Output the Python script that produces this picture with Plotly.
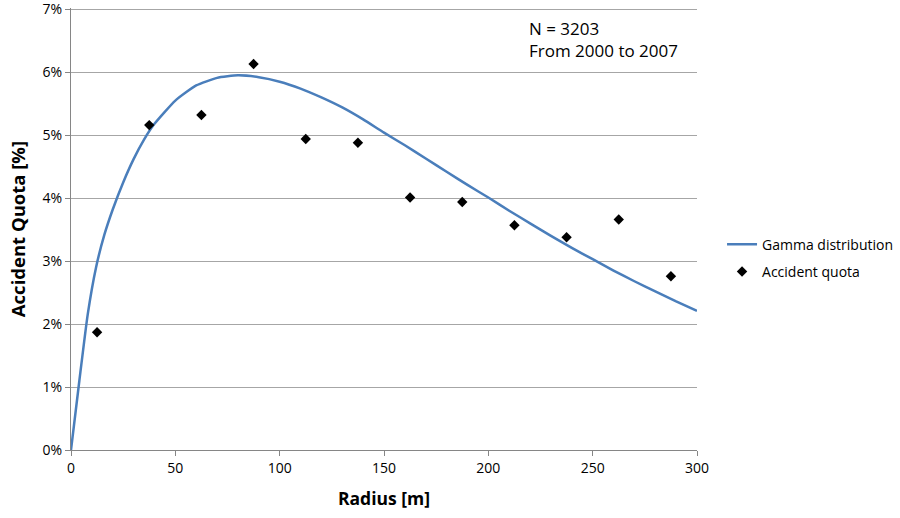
import plotly.graph_objects as go

# Gamma distribution curve, radius [m] and quota [%]
gamma_x = [0, 4, 8, 12, 16, 20, 25, 30, 35, 40, 50, 60, 70, 80, 90, 100, 110,
           120, 130, 140, 150, 160, 170, 180, 190, 200, 210, 220, 230, 240,
           250, 260, 270, 280, 290, 300]
gamma_y = [0.00, 1.10, 2.15, 2.90, 3.42, 3.82, 4.25, 4.62, 4.93, 5.18, 5.55,
           5.79, 5.91, 5.95, 5.92, 5.85, 5.74, 5.60, 5.44, 5.25, 5.04, 4.84,
           4.63, 4.42, 4.21, 4.01, 3.80, 3.60, 3.40, 3.21, 3.03, 2.85, 2.68,
           2.52, 2.36, 2.21]

# Accident quota points
quota_x = [12.5, 37.5, 62.5, 87.5, 112.5, 137.5, 162.5, 187.5, 212.5, 237.5, 262.5, 287.5]
quota_y = [1.87, 5.16, 5.32, 6.13, 4.94, 4.88, 4.01, 3.94, 3.57, 3.38, 3.66, 2.76]

x_ticks = [0, 50, 100, 150, 200, 250, 300]
y_ticks = [0, 1, 2, 3, 4, 5, 6, 7]
y_tick_labels = ["0%", "1%", "2%", "3%", "4%", "5%", "6%", "7%"]

font_family = "Open Sans, Liberation Sans, sans-serif"

fig = go.Figure()
fig.add_trace(go.Scatter(
    x=gamma_x, y=gamma_y, mode="lines", name="Gamma distribution",
    legendgroup="gamma",
    line=dict(color="#4A7EBB", width=2.5, shape="spline", smoothing=0.5),
))
fig.add_trace(go.Scatter(
    x=quota_x, y=quota_y, mode="markers", name="Accident quota",
    legendgroup="quota",
    marker=dict(symbol="diamond", color="black", size=8),
))

fig.add_annotation(
    x=0.7286, y=0.985, xref="paper", yref="paper", xanchor="left", yanchor="top",
    text="N = 3203<br>From 2000 to 2007", showarrow=False, align="left",
    font=dict(size=17, color="black", family=font_family),
)

fig.update_layout(
    width=900, height=518,
    margin=dict(l=71, r=203, t=8, b=68, autoexpand=False),
    paper_bgcolor="white", plot_bgcolor="white",
    font=dict(family=font_family, size=13.5, color="black"),
    showlegend=True,
    legend=dict(x=1.04, y=0.434, xanchor="left", yanchor="middle",
                font=dict(size=14), itemwidth=30, tracegroupgap=6),
    xaxis=dict(
        range=[0, 300], tickvals=x_ticks, showgrid=False,
        showline=True, linecolor="#868686", linewidth=1,
        ticks="outside", ticklen=5, tickcolor="#868686",
        tickfont=dict(size=14),
        title=dict(text="<b>Radius [m]</b>", font=dict(size=17.5), standoff=16),
        zeroline=False,
    ),
    yaxis=dict(
        range=[0, 7.02], tickvals=y_ticks, ticktext=y_tick_labels,
        ticklabeloverflow="allow",
        showgrid=True, gridcolor="#a6a6a6", gridwidth=1,
        showline=True, linecolor="#868686", linewidth=1,
        ticks="outside", ticklen=5, tickcolor="#868686",
        tickfont=dict(size=14),
        title=dict(text="<b>Accident Quota [%]</b>", font=dict(size=18.5), standoff=12),
        zeroline=False,
    ),
)

fig.write_html("out.html", config={"displayModeBar": False},
               post_script="document.body.style.margin='0';")
